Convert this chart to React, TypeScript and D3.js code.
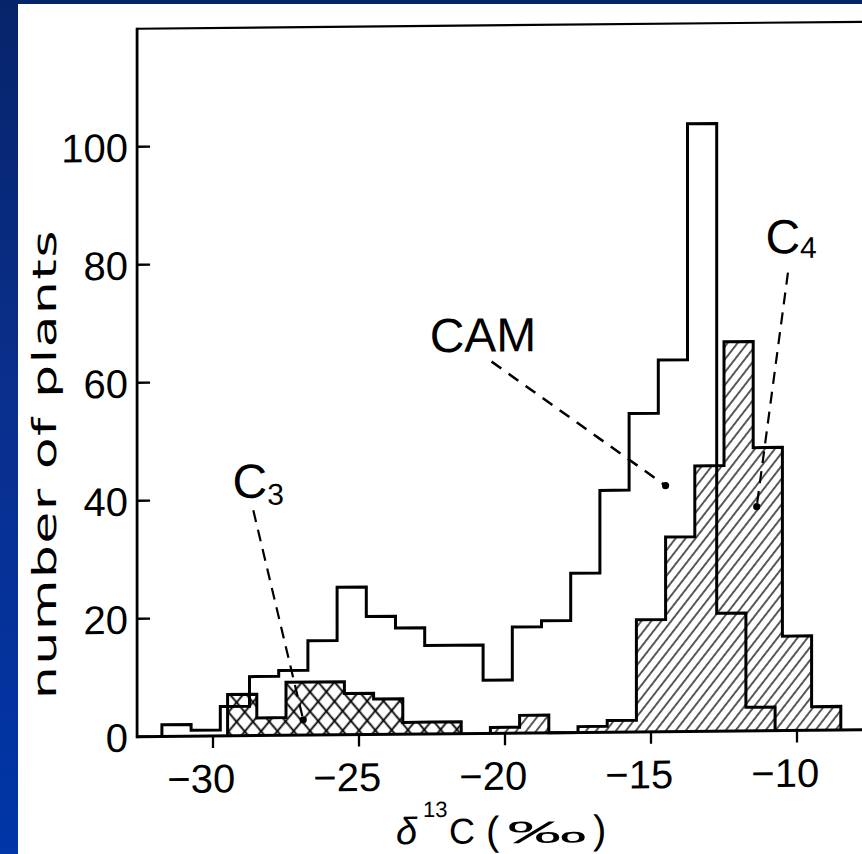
import React from "react";
import * as d3 from "d3";

// δ13C histograms: 1 ‰ bins, left edge of the first bin and the count in each bin
const binWidth = 1;
const camStart = -31.75;
const camCounts = [2, 1, 5, 10, 11, 16, 25, 20, 18, 15, 15, 9, 18, 19, 27, 41, 54, 63, 103, 20, 4];
const c3Start = -29.5;
const c3Counts = [7, 3, 9, 9, 7, 6, 2, 2];
const c4Start = -20.5;
const c4Counts = [1, 3, 0, 1, 2, 19, 33, 45, 66, 48, 16, 4];

const xTicks = [-30, -25, -20, -15, -10];
const yTicks = [0, 20, 40, 60, 80, 100];

// Pathway labels with dashed leaders (data units: ‰, number of plants)
const labelNames = ["CAM", "C", "C"];
const labelSubs = ["", "3", "4"];
const labelAt = [[-22.58, 64.7], [-29.33, 40.3], [-11.08, 80.9]];
const leaderFrom = [[-20.46, 63.0], [-28.62, 38.2], [-10.31, 77.6]];
const leaderTo = [[-14.5, 41.7], [-26.91, 2.6], [-11.38, 38.0]];

const W = 862;
const H = 854;
const FONT = "'Liberation Sans', Arial, Helvetica, sans-serif";

const x = d3.scaleLinear().domain([-30, -10]).range([213, 797]);
const y = d3.scaleLinear().domain([0, 120]).range([733.5, 25.5]);
const xMin = -32.6;
const xMax = -7;

// the printed figure sits slightly askew on the page
const skewCx = 475;
const skewDeg = -0.55;

type Pt = [number, number];

function stepPoints(start: number, counts: number[]): Pt[] {
  const pts: Pt[] = counts.map((c, i) => [start + i * binWidth, c] as Pt);
  pts.push([start + counts.length * binWidth, counts[counts.length - 1]]);
  return pts;
}

const areaGen = d3
  .area<Pt>()
  .x((d) => x(d[0]))
  .y0(y(0))
  .y1((d) => y(d[1]))
  .curve(d3.curveStepAfter);

const lineGen = d3
  .line<Pt>()
  .x((d) => x(d[0]))
  .y((d) => y(d[1]))
  .curve(d3.curveStepAfter);

function outline(start: number, counts: number[]): string {
  const pts = stepPoints(start, counts);
  const end = start + counts.length * binWidth;
  return lineGen([[start, 0], ...pts, [end, 0]]) || "";
}

const fmt = d3.format("d");

export default function App() {
  const camPath = outline(camStart, camCounts);
  const c3Area = areaGen(stepPoints(c3Start, c3Counts)) || "";
  const c3Path = outline(c3Start, c3Counts);
  const c4Area = areaGen(stepPoints(c4Start, c4Counts)) || "";
  const c4Path = outline(c4Start, c4Counts);

  const x0 = x(xMin);
  const x1 = x(xMax);
  const yBase = y(0);
  const yTop = y(120);
  const titleY = yBase + 110;

  return (
    <svg
      width={W}
      height={H}
      viewBox={`0 0 ${W} ${H}`}
      style={{ position: "absolute", left: 0, top: 0, display: "block" }}
      fontFamily={FONT}
    >
      <defs>
        <linearGradient id="bg" x1="0" y1="0" x2="0" y2="1">
          <stop offset="0" stopColor="#06246a" />
          <stop offset="0.45" stopColor="#0a2f8c" />
          <stop offset="1" stopColor="#0036a8" />
        </linearGradient>
        <pattern id="hatchC4" patternUnits="userSpaceOnUse" width={7.9} height={10} patternTransform="rotate(38)">
          <line x1={3.95} y1={-1} x2={3.95} y2={11} stroke="#000" strokeWidth={1.3} />
        </pattern>
        <pattern id="crossA" patternUnits="userSpaceOnUse" width={12.5} height={10} patternTransform="rotate(40)">
          <line x1={6.25} y1={-1} x2={6.25} y2={11} stroke="#000" strokeWidth={1.8} />
        </pattern>
        <pattern id="crossB" patternUnits="userSpaceOnUse" width={12.5} height={10} patternTransform="rotate(-40)">
          <line x1={6.25} y1={-1} x2={6.25} y2={11} stroke="#000" strokeWidth={1.8} />
        </pattern>
      </defs>

      <rect width={W} height={H} fill="url(#bg)" />
      <rect x={18} y={4} width={W - 18} height={H - 4} fill="#fff" />

      <g transform={`translate(${skewCx},0) skewY(${skewDeg}) translate(${-skewCx},0)`}>
        {/* hatched fills */}
        <path d={c3Area} fill="url(#crossA)" />
        <path d={c3Area} fill="url(#crossB)" />
        <path d={c4Area} fill="url(#hatchC4)" />

        {/* histogram outlines */}
        <g fill="none" stroke="#000" strokeWidth={3} strokeLinejoin="miter">
          <path d={c3Path} />
          <path d={c4Path} />
          <path d={camPath} />
        </g>

        {/* frame and axes */}
        <g stroke="#000" fill="none">
          <line x1={x0} y1={yTop} x2={x1} y2={yTop} strokeWidth={2.2} />
          <line x1={x0} y1={yTop - 1} x2={x0} y2={yBase + 1.5} strokeWidth={2.8} />
          <line x1={x0} y1={yBase} x2={x1} y2={yBase} strokeWidth={3} />
          {yTicks.map((t) => (
            <line key={`yt${t}`} x1={x0} y1={y(t)} x2={x0 + 13} y2={y(t)} strokeWidth={2.3} />
          ))}
          {xTicks.map((t) => (
            <line key={`xt${t}`} x1={x(t)} y1={yBase} x2={x(t)} y2={yBase + 12} strokeWidth={2.3} />
          ))}
        </g>

        {/* tick labels */}
        <g fontSize={40} fill="#000">
          {yTicks.map((t) => (
            <text key={`yl${t}`} x={128} y={y(t) + 15} textAnchor="end">
              {fmt(t)}
            </text>
          ))}
          {xTicks.map((t) => (
            <text key={`xl${t}`} x={x(t) + 22.2} y={yBase + 56.5} textAnchor="end">
              {fmt(t)}
            </text>
          ))}
        </g>

        {/* axis titles */}
        <text
          transform={`translate(56, 460) rotate(-90)`}
          textAnchor="middle"
          fontSize={33}
          fontFamily="'DejaVu Sans', sans-serif"
          letterSpacing={1}
          textLength={470}
          lengthAdjust="spacingAndGlyphs"
        >
          number of plants
        </text>
        <g fontSize={36} fill="#000">
          <text x={396} y={titleY} fontSize={38} fontStyle="italic">
            δ
          </text>
          <text x={423} y={titleY - 27} fontSize={22}>
            13
          </text>
          <text x={449} y={titleY}>
            C
          </text>
          <text x={486} y={titleY + 1} fontSize={40}>
            (
          </text>
          <text x={507} y={titleY} fontSize={31} textLength={80} lengthAdjust="spacingAndGlyphs">
            ‰
          </text>
          <text x={593} y={titleY + 1} fontSize={40}>
            )
          </text>
        </g>

        {/* pathway labels and leaders */}
        {labelNames.map((name, i) => (
          <g key={`lab${i}`}>
            <text x={x(labelAt[i][0])} y={y(labelAt[i][1])} fontSize={48} fill="#000">
              {name}
              {labelSubs[i] ? (
                <tspan fontSize={30} dy={i === 1 ? 7 : 5}>
                  {labelSubs[i]}
                </tspan>
              ) : null}
            </text>
            <line
              x1={x(leaderFrom[i][0])}
              y1={y(leaderFrom[i][1])}
              x2={x(leaderTo[i][0])}
              y2={y(leaderTo[i][1])}
              stroke="#000"
              strokeWidth={i === 0 ? 2.5 : 2.2}
              strokeDasharray={i === 0 ? "12 9" : "12 8"}
            />
            <circle cx={x(leaderTo[i][0])} cy={y(leaderTo[i][1])} r={3.6} fill="#000" />
          </g>
        ))}
      </g>
    </svg>
  );
}
